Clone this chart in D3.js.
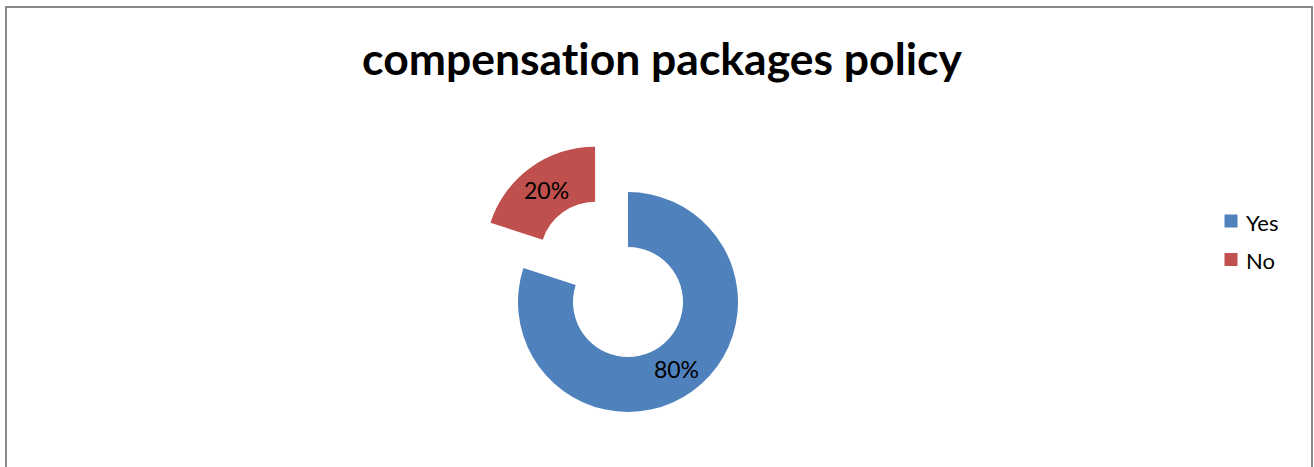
<!DOCTYPE html>
<html>
<head>
<meta charset="utf-8">
<script src="https://cdn.jsdelivr.net/npm/d3@7"></script>
<style>
  html, body { margin: 0; padding: 0; background: #ffffff; }
  svg { display: block; }
  text { font-variant-ligatures: none; font-feature-settings: "liga" 0; }
</style>
</head>
<body>
<svg id="chart" width="1314" height="467"></svg>
<script>
// Survey answers
const categories = ["Yes", "No"];
const values = [80, 20];
const colors = ["#4F81BD", "#C0504D"];
const explodedCategory = "No";
const title = "compensation packages policy";

const W = 1314, H = 467;
const svg = d3.select("#chart");
const fontFamily = "Lato, 'Open Sans', sans-serif";

// Chart frame
svg.append("rect")
  .attr("x", 6).attr("y", 7)
  .attr("width", 1306).attr("height", 470)
  .attr("fill", "#ffffff")
  .attr("stroke", "#898989")
  .attr("stroke-width", 2);

// Title, fitted to its width
const titleText = svg.append("text")
  .attr("x", 662).attr("y", 75)
  .attr("text-anchor", "middle")
  .attr("font-family", fontFamily)
  .attr("font-weight", "bold")
  .attr("font-size", 40)
  .attr("fill", "#000000")
  .text(title);
const targetWidth = 600;
const w0 = titleText.node().getComputedTextLength();
titleText.attr("font-size", 40 * targetWidth / w0);

// Doughnut
const cx = 628, cy = 302;
const outerR = 110, innerR = 55, explode = 56;

const color = d3.scaleOrdinal().domain(categories).range(colors);
const pie = d3.pie().sort(null).value(d => d.value);
const data = categories.map((c, i) => ({ category: c, value: values[i] }));
const arcs = pie(data);
const total = d3.sum(values);

const arc = d3.arc().innerRadius(innerR).outerRadius(outerR);
const midR = (innerR + outerR) / 2;
const labelArc = d3.arc().innerRadius(midR).outerRadius(midR);

const g = svg.append("g").attr("transform", `translate(${cx},${cy})`);

const slices = g.selectAll("g.slice")
  .data(arcs)
  .join("g")
  .attr("class", "slice")
  .attr("transform", d => {
    if (d.data.category !== explodedCategory) return null;
    const mid = (d.startAngle + d.endAngle) / 2;
    return `translate(${Math.sin(mid) * explode},${-Math.cos(mid) * explode})`;
  });

slices.append("path")
  .attr("d", arc)
  .attr("fill", d => color(d.data.category));

slices.append("text")
  .attr("transform", d => `translate(${labelArc.centroid(d)})`)
  .attr("text-anchor", "middle")
  .attr("dominant-baseline", "central")
  .attr("font-family", fontFamily)
  .attr("font-size", 23)
  .attr("fill", "#000000")
  .text(d => Math.round(d.data.value / total * 100) + "%");

// Legend
const legend = svg.append("g").attr("transform", "translate(1231,221)");
const items = legend.selectAll("g")
  .data(categories)
  .join("g")
  .attr("transform", (d, i) => `translate(0,${i * 38.5})`);
items.append("rect")
  .attr("x", -6.5).attr("y", -6.5)
  .attr("width", 13).attr("height", 13)
  .attr("fill", d => color(d));
items.append("text")
  .attr("x", 15).attr("y", 1)
  .attr("dominant-baseline", "central")
  .attr("font-family", fontFamily)
  .attr("font-size", 22)
  .attr("fill", "#000000")
  .text(d => d);
</script>
</body>
</html>
